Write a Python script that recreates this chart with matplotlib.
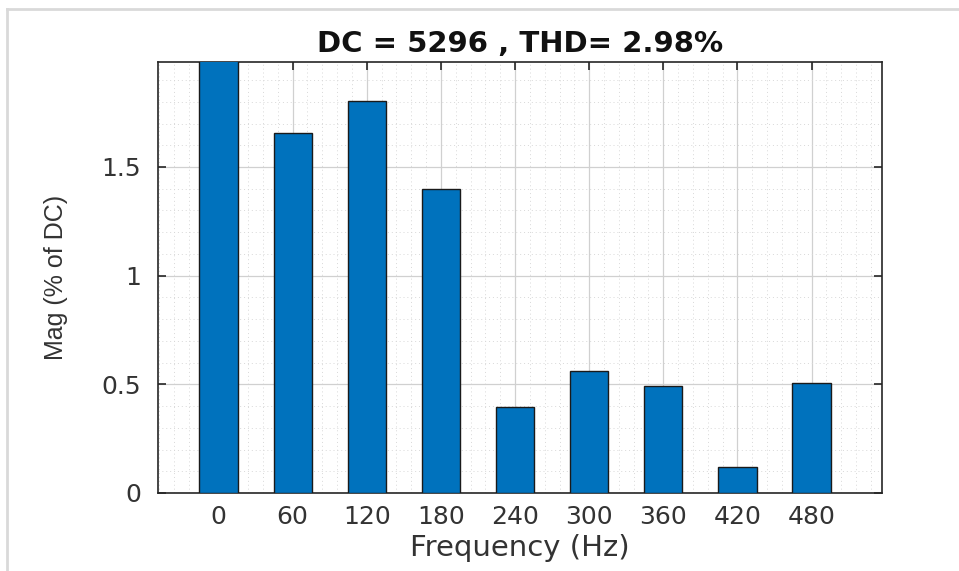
import matplotlib
matplotlib.use("Agg")
import matplotlib.pyplot as plt
from matplotlib.ticker import MultipleLocator
from matplotlib.lines import Line2D

freqs = [0, 60, 120, 180, 240, 300, 360, 420, 480]
mags = [100.0, 1.658, 1.804, 1.399, 0.396, 0.563, 0.494, 0.121, 0.505]
title = "DC = 5296 , THD= 2.98%"
xlabel = "Frequency (Hz)"
ylabel = "Mag (% of DC)"
yticks = [0, 0.5, 1, 1.5]
yticklabels = ["0", "0.5", "1", "1.5"]

fig = plt.figure(figsize=(9.59, 5.71), dpi=100)
ax = fig.add_axes([158/959, 1-493/571, (882-158)/959, (493-62)/571])

ax.bar(freqs, mags, width=31, color="#0072BD", edgecolor="#1a1a1a", linewidth=1.0, zorder=3)

ax.set_xlim(-49, 537)
ax.set_ylim(0, 1.983)
ax.set_xticks(freqs)
ax.set_xticklabels([str(f) for f in freqs])
ax.set_yticks(yticks)
ax.set_yticklabels(yticklabels)
ax.xaxis.set_minor_locator(MultipleLocator(12))
ax.yaxis.set_minor_locator(MultipleLocator(0.1))

ax.grid(True, which="major", color="#d0d0d0", linewidth=0.9, linestyle="-", zorder=0)
ax.grid(True, which="minor", color="#d8d8d8", linewidth=0.7, linestyle=(0, (1, 3)), zorder=0)
ax.set_axisbelow(True)

ax.tick_params(which="major", direction="in", length=6, width=1.2, top=True, right=True,
               labelsize=18, colors="#262626")
ax.tick_params(axis="x", which="major", pad=9)
ax.tick_params(axis="y", which="major", pad=12)
ax.tick_params(which="minor", length=0, top=True, right=True)
for lab in ax.get_xticklabels() + ax.get_yticklabels():
    lab.set_fontfamily("DejaVu Sans")
    lab.set_color("#333333")

for s in ax.spines.values():
    s.set_color("#262626")
    s.set_linewidth(1.2)

ax.set_title(title, fontsize=21, fontweight="bold", family="DejaVu Sans", pad=7, color="#111111")
ax.set_xlabel(xlabel, fontsize=21, family="DejaVu Sans", color="#333333", labelpad=3)
ax.set_ylabel(ylabel, fontsize=18, family="Liberation Sans", color="#333333", labelpad=24)

# light frame lines of the original screenshot
fig.add_artist(Line2D([7/959, 1], [1-9/571, 1-9/571], transform=fig.transFigure, color="#d9d9d9", linewidth=2))
fig.add_artist(Line2D([7/959, 7/959], [0, 1-9/571], transform=fig.transFigure, color="#d9d9d9", linewidth=2))

fig.savefig("out.png", dpi=100)
